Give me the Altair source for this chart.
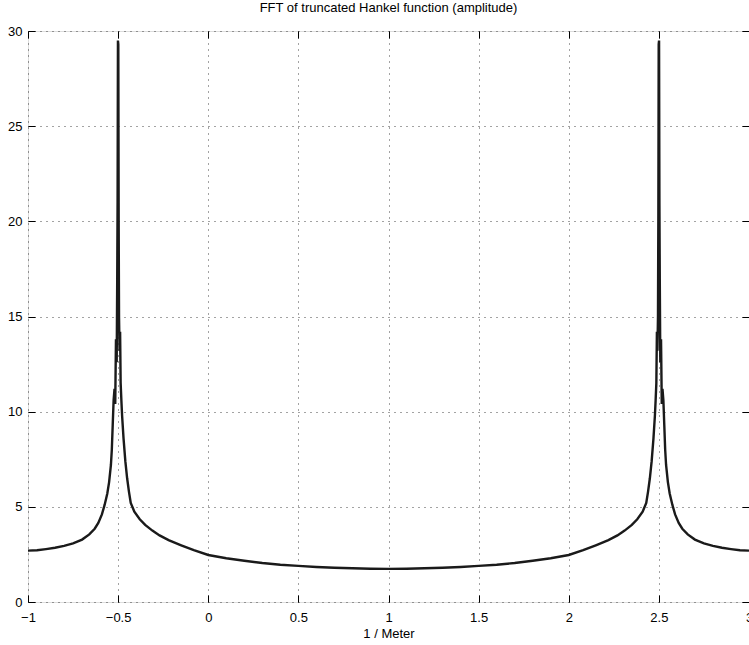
import altair as alt
import pandas as pd

# Frequency axis (1 / Meter) and FFT amplitude
freq = [
    -1.00, -0.95, -0.90, -0.85, -0.80, -0.75, -0.70, -0.66, -0.63, -0.61,
    -0.59, -0.575, -0.56, -0.55, -0.54, -0.535, -0.53, -0.525, -0.52, -0.516,
    -0.512, -0.508, -0.505, -0.503, -0.501, -0.499, -0.497, -0.495, -0.492, -0.489,
    -0.486, -0.482, -0.478, -0.47, -0.46, -0.45, -0.44, -0.43, -0.41, -0.38,
    -0.35, -0.31, -0.27, -0.22, -0.15, -0.08, 0.00, 0.10, 0.20, 0.30,
    0.40, 0.50, 0.60, 0.70, 0.80, 0.90, 1.00,
    1.10, 1.20, 1.30, 1.40, 1.50, 1.60, 1.70, 1.80, 1.90, 2.00,
    2.08, 2.15, 2.22, 2.27, 2.31, 2.35, 2.38, 2.41, 2.43, 2.44,
    2.45, 2.46, 2.47, 2.478, 2.482, 2.486, 2.489, 2.492, 2.495, 2.497,
    2.499, 2.501, 2.503, 2.505, 2.508, 2.512, 2.516, 2.52, 2.525, 2.53,
    2.535, 2.54, 2.55, 2.56, 2.575, 2.59, 2.61, 2.63, 2.66, 2.70,
    2.75, 2.80, 2.85, 2.90, 2.95, 3.00,
]
amplitude = [
    2.70, 2.72, 2.78, 2.85, 2.95, 3.08, 3.28, 3.55, 3.85, 4.15,
    4.6, 5.1, 5.7, 6.3, 7.2, 8.0, 9.3, 10.6, 11.2, 10.4,
    13.8, 12.6, 17.0, 21.0, 29.5, 29.3, 20.0, 15.0, 13.2, 14.2,
    11.5, 10.6, 9.8, 8.6, 7.4, 6.5, 5.8, 5.2, 4.75, 4.35,
    4.05, 3.75, 3.5, 3.25, 2.98, 2.72, 2.47, 2.30, 2.17, 2.05,
    1.96, 1.90, 1.84, 1.80, 1.77, 1.75, 1.74,
    1.75, 1.77, 1.80, 1.84, 1.90, 1.96, 2.05, 2.17, 2.30, 2.47,
    2.72, 2.98, 3.25, 3.5, 3.75, 4.05, 4.35, 4.75, 5.2, 5.8,
    6.5, 7.4, 8.6, 9.8, 10.6, 11.5, 14.2, 13.2, 15.0, 20.0,
    29.3, 29.5, 21.0, 17.0, 12.6, 13.8, 10.4, 11.2, 10.6, 9.3,
    8.0, 7.2, 6.3, 5.7, 5.1, 4.6, 4.15, 3.85, 3.55, 3.28,
    3.08, 2.95, 2.85, 2.78, 2.72, 2.70,
]
x_ticks = [-1, -0.5, 0, 0.5, 1, 1.5, 2, 2.5, 3]
y_ticks = [0, 5, 10, 15, 20, 25, 30]

df = pd.DataFrame({"x": freq, "y": amplitude})

FONT = "Liberation Sans"
xs = alt.Scale(domain=[-1, 3], nice=False, zero=False)
ys = alt.Scale(domain=[0, 30], nice=False)

base = alt.Chart(df)

main = base.mark_line(color="#1a1a1a", strokeWidth=2.4, clip=True).encode(
    x=alt.X("x:Q", scale=xs, title="1 / Meter",
            axis=alt.Axis(values=x_ticks, format="~g", grid=True, gridDash=[1, 5],
                          gridColor="#333", gridOpacity=0.9, tickSize=0, domain=False,
                          labelPadding=9, labelFontSize=13, labelFont=FONT,
                          labelColor="black", titleFont=FONT, titleFontSize=13,
                          titleFontWeight="normal", titleColor="black", titlePadding=3,
                          labelFlush=False)),
    y=alt.Y("y:Q", scale=ys, title=None,
            axis=alt.Axis(values=y_ticks, format="~g", grid=True, gridDash=[1, 5],
                          gridColor="#333", gridOpacity=0.9, tickSize=0, domain=False,
                          labelPadding=6, labelFontSize=13, labelFont=FONT,
                          labelColor="black", labelFlush=False)),
)


def tick_layer(xo, yo):
    return base.mark_line(opacity=0).encode(
        x=alt.X("x:Q", scale=xs, title=None,
                axis=alt.Axis(orient=xo, values=x_ticks, labels=False, tickSize=7,
                              offset=-7, domain=False, grid=False, tickColor="black")),
        y=alt.Y("y:Q", scale=ys, title=None,
                axis=alt.Axis(orient=yo, values=y_ticks, labels=False, tickSize=7,
                              offset=-7, domain=False, grid=False, tickColor="black")),
    )


chart = (
    alt.layer(main, tick_layer("bottom", "left"), tick_layer("top", "right"))
    .resolve_axis(x="independent", y="independent")
    .properties(
        width=721,
        height=571,
        autosize=alt.AutoSizeParams(type="none"),
        padding={"left": 28, "top": 31, "right": 0, "bottom": 43},
        title=alt.TitleParams("FFT of truncated Hankel function (amplitude)",
                              font=FONT, fontSize=13, fontWeight="normal",
                              color="black", offset=10),
    )
    .configure_view(stroke="black", strokeWidth=1.2)
    .configure(background="white")
)

chart.save("out.html", embed_options={"renderer": "svg", "actions": False})
